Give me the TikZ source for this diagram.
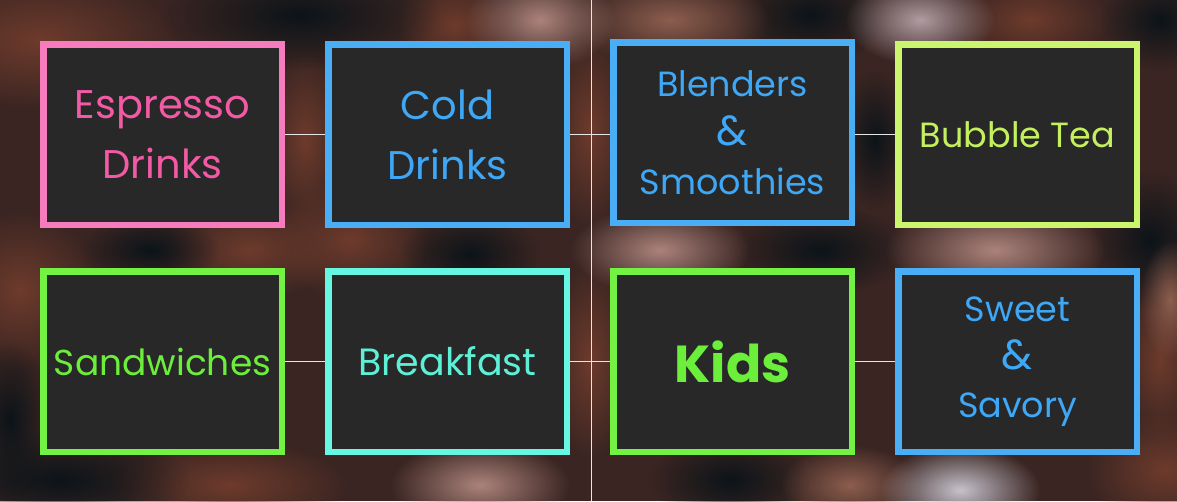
\documentclass[tikz,border=0pt]{standalone}
\usepackage{fontspec}
\setmainfont{Poppins}
\usetikzlibrary{fadings}
\tikzfading[name=softblob, inner color=transparent!0, outer color=transparent!100]
\definecolor{bgbase}{HTML}{3A2522}
\definecolor{bgdark}{HTML}{0C1419}
\definecolor{bgbrown}{HTML}{6E3B2C}
\definecolor{bgtan}{HTML}{8C5E4E}
\definecolor{bgrose}{HTML}{AC837C}
\definecolor{bggrey}{HTML}{B09CA2}
\definecolor{bglight}{HTML}{C6C2CC}
\definecolor{boxfill}{HTML}{282828}
\definecolor{pinkB}{HTML}{F77CBE}
\definecolor{pinkT}{HTML}{F25AA5}
\definecolor{blueB}{HTML}{4AAEF6}
\definecolor{blueT}{HTML}{3EA8F6}
\definecolor{limeB}{HTML}{CBF56C}
\definecolor{limeT}{HTML}{C5F05E}
\definecolor{greenB}{HTML}{74F244}
\definecolor{greenT}{HTML}{6CEF3A}
\definecolor{cyanB}{HTML}{66F7E2}
\definecolor{cyanT}{HTML}{5EEFD7}
\definecolor{linkc}{HTML}{E6E6E6}
\tikzset{
  menubox/.style={draw=#1, line width=6.5pt, fill=boxfill, minimum width=238.5pt,
    minimum height=180.5pt, inner sep=0pt, align=center},
  link/.style={draw=linkc, line width=1pt},
  blob/.style={fill=#1, path fading=softblob}
}
\begin{document}
\begin{tikzpicture}[x=1pt,y=-1pt]
% background
\fill[bgbase] (0,0) rectangle (1177,501);
\useasboundingbox (0,0) rectangle (1177,501);
\begin{scope}
\clip (0,0) rectangle (1177,501);
% brown areas
\fill[blob=bgbrown] (40,40) ellipse (140 and 70);
\fill[blob=bgbrown] (20,290) ellipse (80 and 80);
\fill[blob=bgbrown] (250,250) ellipse (90 and 50);
\fill[blob=bgbrown] (350,240) ellipse (80 and 60);
\fill[blob=bgbrown] (230,485) ellipse (120 and 45);
\fill[blob=bgbrown] (455,25) ellipse (60 and 50);
\fill[blob=bgbrown] (1030,20) ellipse (80 and 45);
\fill[blob=bgbrown] (1165,470) ellipse (80 and 60);
\fill[blob=bgbrown] (590,130) ellipse (40 and 100);
\fill[blob=bgbrown] (305,140) ellipse (40 and 90);
\fill[blob=bgbrown] (590,360) ellipse (40 and 100);
\fill[blob=bgbrown] (1160,360) ellipse (40 and 80);
% dark areas
\fill[blob=bgdark] (300,15) ellipse (140 and 55);
\fill[blob=bgdark] (150,250) ellipse (70 and 35);
\fill[blob=bgdark] (470,255) ellipse (70 and 45);
\fill[blob=bgdark] (820,250) ellipse (90 and 45);
\fill[blob=bgdark] (1150,240) ellipse (60 and 70);
\fill[blob=bgdark] (730,480) ellipse (80 and 45);
\fill[blob=bgdark] (810,15) ellipse (80 and 50);
\fill[blob=bgdark] (1160,20) ellipse (60 and 50);
\fill[blob=bgdark] (60,480) ellipse (130 and 50);
\fill[blob=bgdark] (10,420) ellipse (40 and 80);
\fill[blob=bgdark] (875,140) ellipse (35 and 70);
% light areas
\fill[blob=bgtan] (670,20) ellipse (100 and 45);
\fill[blob=bgrose] (540,20) ellipse (75 and 50);
\fill[blob=bggrey] (920,20) ellipse (75 and 45);
\fill[blob=bgrose] (660,250) ellipse (90 and 45);
\fill[blob=bgrose] (995,250) ellipse (110 and 50);
\fill[blob=bgrose] (480,485) ellipse (90 and 45);
\fill[blob=bgtan] (850,485) ellipse (70 and 40);
\fill[blob=bglight] (960,490) ellipse (80 and 45);
\fill[blob=bgtan] (1170,300) ellipse (30 and 60);
\end{scope}
% vertical line
\coordinate (vtop) at (591,0);
\coordinate (vbot) at (591,501);
\draw[link] (vtop) -- (vbot);
% boxes row 1
\node[menubox=pinkB, text=pinkT, font=\fontsize{40}{60}\selectfont] (espresso) at (162.5,134.5) {Espresso\\Drinks};
\node[menubox=blueB, text=blueT, font=\fontsize{40}{60}\selectfont] (cold) at (447.5,134.5) {Cold\\Drinks};
\node[menubox=blueB, text=blueT, font=\fontsize{35}{49}\selectfont] (blenders) at (732.5,132.5) {Blenders\\{\fontsize{42}{49}\selectfont\&}\\Smoothies};
\node[menubox=limeB, text=limeT, font=\fontsize{35}{42}\selectfont] (bubble) at (1017.5,134.5) {Bubble Tea};
% boxes row 2
\node[menubox=greenB, text=greenT, font=\fontsize{36}{42}\selectfont] (sandwiches) at (162.5,361.5) {Sandwiches};
\node[menubox=cyanB, text=cyanT, font=\fontsize{38}{44}\selectfont] (breakfast) at (447.5,361.5) {Breakfast};
\node[menubox=greenB, text=greenT, font=\fontsize{52}{60}\selectfont\bfseries] (kids) at (732.5,361.5) {Kids};
\node[menubox=blueB, text=blueT, font=\fontsize{35}{48}\selectfont] (sweet) at (1017.5,361.5) {Sweet\\{\fontsize{42}{48}\selectfont\&}\\Savory};
% connectors
\draw[link] (espresso.east) -- (cold.west);
\draw[link] (cold.east) -- (blenders.west |- cold.east);
\draw[link] (blenders.east |- bubble.west) -- (bubble.west);
\draw[link] (sandwiches.east) -- (breakfast.west);
\draw[link] (breakfast.east) -- (kids.west);
\draw[link] (kids.east) -- (sweet.west);
\end{tikzpicture}
\end{document}
